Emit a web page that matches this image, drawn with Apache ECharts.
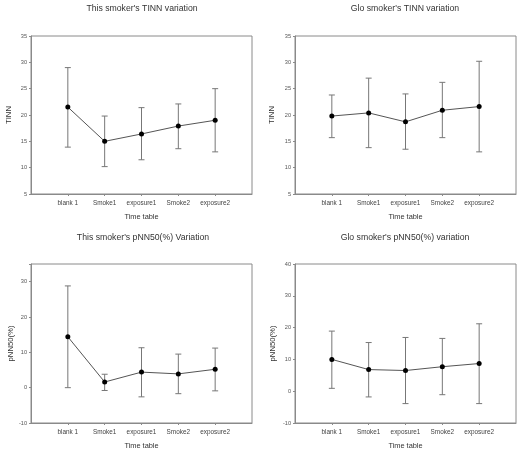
<!DOCTYPE html>
<html><head><meta charset="utf-8">
<script src="https://cdn.jsdelivr.net/npm/echarts@6/dist/echarts.min.js"></script>
<style>html,body{margin:0;padding:0;background:#fff}#c{width:529px;height:459px}</style>
</head><body><div id="c"></div>
<script>
const categories = ['blank 1', 'Smoke1', 'exposure1', 'Smoke2', 'exposure2'];

const titles = ["This smoker's TINN variation", "Glo smoker's TINN variation",
                "This smoker's pNN50(%) Variation", "Glo smoker's pNN50(%) variation"];
const yNames = ['TINN', 'TINN', 'pNN50(%)', 'pNN50(%)'];
const xName = 'Time table';

const thisTinnMean  = [21.5, 15.0, 16.4, 17.9, 19.0];
const thisTinnUpper = [29.0, 19.8, 21.4, 22.1, 25.0];
const thisTinnLower = [13.9, 10.2, 11.5, 13.6, 13.0];

const gloTinnMean  = [19.8, 20.4, 18.7, 20.9, 21.6];
const gloTinnUpper = [23.8, 27.0, 24.0, 26.2, 30.2];
const gloTinnLower = [15.7, 13.8, 13.5, 15.7, 13.0];

const thisPnnMean  = [14.4, 1.6, 4.4, 3.9, 5.2];
const thisPnnUpper = [28.8, 3.8, 11.3, 9.5, 11.2];
const thisPnnLower = [0.0, -0.8, -2.6, -1.7, -0.9];

const gloPnnMean  = [10.0, 6.8, 6.5, 7.7, 8.7];
const gloPnnUpper = [18.9, 15.3, 16.9, 16.6, 21.2];
const gloPnnLower = [0.9, -1.8, -3.9, -1.1, -3.9];

const yRanges = [[5, 35, 5], [5, 35, 5], [-10, 35, 10], [-10, 40, 10]];

const panels = [
  [thisTinnMean, thisTinnUpper, thisTinnLower],
  [gloTinnMean, gloTinnUpper, gloTinnLower],
  [thisPnnMean, thisPnnUpper, thisPnnLower],
  [gloPnnMean, gloPnnUpper, gloPnnLower]
];

const gridPos = [
  {left: 31, top: 36, width: 221, height: 158},
  {left: 295, top: 36, width: 221, height: 158},
  {left: 31, top: 264, width: 221, height: 159},
  {left: 295, top: 264, width: 221, height: 159}
];
const yNameGaps = [18, 19, 16, 18];
const titlePos = [[142, 4], [405, 4], [143, 233], [405, 233]];

const FONT = 'Liberation Sans, Arial, sans-serif';
const xCats = [''].concat(categories, ['']);

const option = {
  animation: false,
  backgroundColor: '#fff',
  title: titles.map((t, i) => ({
    text: t, left: titlePos[i][0], top: titlePos[i][1], textAlign: 'center', padding: 0,
    textStyle: {fontFamily: FONT, fontSize: 8.7, fontWeight: 'normal', color: '#333'}
  })),
  grid: gridPos.map(g => Object.assign({show: true, borderColor: '#8a8a8a', borderWidth: 1, backgroundColor: 'transparent'}, g)),
  xAxis: gridPos.map((g, i) => ({
    type: 'category', gridIndex: i, data: xCats, boundaryGap: false,
    name: xName, nameLocation: 'middle', nameGap: 19.5,
    nameTextStyle: {fontFamily: FONT, fontSize: 7.4, color: '#333'},
    axisLine: {onZero: false, lineStyle: {color: '#8a8a8a', width: 1}},
    axisTick: {show: true, length: 2, lineStyle: {color: '#8a8a8a'},
               interval: (idx) => idx > 0 && idx < xCats.length - 1},
    axisLabel: {fontFamily: FONT, fontSize: 6.4, color: '#444', margin: 6,
                interval: (idx) => idx > 0 && idx < xCats.length - 1},
    splitLine: {show: false}
  })),
  yAxis: gridPos.map((g, i) => ({
    type: 'value', gridIndex: i, min: yRanges[i][0], max: yRanges[i][1], interval: yRanges[i][2],
    name: yNames[i], nameLocation: 'middle', nameGap: yNameGaps[i],
    nameTextStyle: {fontFamily: FONT, fontSize: 7.7, color: '#333'},
    axisLine: {show: true, onZero: false, lineStyle: {color: '#8a8a8a', width: 1}},
    axisTick: {show: true, length: 2, lineStyle: {color: '#8a8a8a'}},
    axisLabel: {fontFamily: FONT, fontSize: 5.6, color: '#555', margin: 4,
                formatter: (v) => (v % yRanges[i][2] === 0 ? String(v) : '')},
    splitLine: {show: false}
  })),
  series: []
};

panels.forEach((p, i) => {
  const [mean, upper, lower] = p;
  option.series.push({
    type: 'custom', xAxisIndex: i, yAxisIndex: i,
    data: categories.map((c, k) => [k + 1, lower[k], upper[k]]),
    renderItem: (params, api) => {
      const lo = api.coord([api.value(0), api.value(1)]);
      const hi = api.coord([api.value(0), api.value(2)]);
      const hw = 3;
      const st = {stroke: '#777', lineWidth: 1, fill: null};
      return {type: 'group', children: [
        {type: 'line', shape: {x1: hi[0], y1: hi[1], x2: lo[0], y2: lo[1]}, style: st},
        {type: 'line', shape: {x1: hi[0] - hw, y1: hi[1], x2: hi[0] + hw, y2: hi[1]}, style: st},
        {type: 'line', shape: {x1: lo[0] - hw, y1: lo[1], x2: lo[0] + hw, y2: lo[1]}, style: st}
      ]};
    },
    z: 2
  });
  option.series.push({
    type: 'line', xAxisIndex: i, yAxisIndex: i,
    data: mean.map((v, k) => [k + 1, v]),
    symbol: 'circle', symbolSize: 5,
    lineStyle: {color: '#555', width: 1},
    itemStyle: {color: '#000', borderWidth: 0},
    z: 3
  });
});

const chart = echarts.init(document.getElementById('c'), null, {renderer: 'canvas'});
chart.setOption(option);
</script>
</body></html>
